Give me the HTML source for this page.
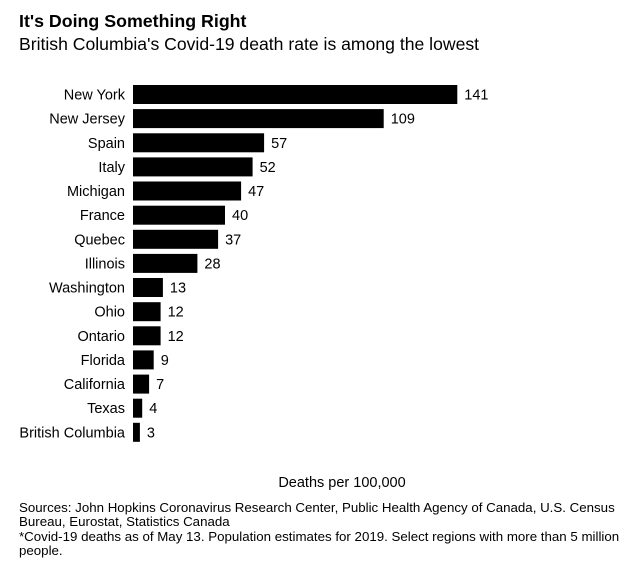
<!DOCTYPE html>
<html><head><style>
html,body{margin:0;padding:0;background:#fff;}
svg{display:block;font-family:"Liberation Sans",sans-serif;}
</style></head><body>
<svg width="630" height="581" viewBox="0 0 630 581">
<text x="19" y="27" font-size="17.8" font-weight="bold" fill="#000">It's Doing Something Right</text>
<text x="19" y="50" font-size="17.6" fill="#000">British Columbia's Covid-19 death rate is among the lowest</text>
<g fill="#000">
<rect x="133" y="85" width="324.3" height="19"/>
<rect x="133" y="109.1" width="250.7" height="19"/>
<rect x="133" y="133.3" width="131.1" height="19"/>
<rect x="133" y="157.4" width="119.6" height="19"/>
<rect x="133" y="181.5" width="108.1" height="19"/>
<rect x="133" y="205.7" width="92" height="19"/>
<rect x="133" y="229.8" width="85.1" height="19"/>
<rect x="133" y="253.9" width="64.4" height="19"/>
<rect x="133" y="278" width="29.9" height="19"/>
<rect x="133" y="302.2" width="27.6" height="19"/>
<rect x="133" y="326.3" width="27.6" height="19"/>
<rect x="133" y="350.4" width="20.7" height="19"/>
<rect x="133" y="374.6" width="16.1" height="19"/>
<rect x="133" y="398.7" width="9.2" height="19"/>
<rect x="133" y="422.8" width="6.9" height="19"/>
</g>
<g font-size="14.5" fill="#000" text-anchor="end">
<text x="125" y="99.5">New York</text>
<text x="125" y="123.6">New Jersey</text>
<text x="125" y="147.8">Spain</text>
<text x="125" y="171.9">Italy</text>
<text x="125" y="196">Michigan</text>
<text x="125" y="220.2">France</text>
<text x="125" y="244.3">Quebec</text>
<text x="125" y="268.4">Illinois</text>
<text x="125" y="292.5">Washington</text>
<text x="125" y="316.7">Ohio</text>
<text x="125" y="340.8">Ontario</text>
<text x="125" y="364.9">Florida</text>
<text x="125" y="389.1">California</text>
<text x="125" y="413.2">Texas</text>
<text x="125" y="437.3">British Columbia</text>
</g>
<g font-size="14.5" fill="#000">
<text x="464.3" y="99.5">141</text>
<text x="390.7" y="123.6">109</text>
<text x="271.1" y="147.8">57</text>
<text x="259.6" y="171.9">52</text>
<text x="248.1" y="196">47</text>
<text x="232" y="220.2">40</text>
<text x="225.1" y="244.3">37</text>
<text x="204.4" y="268.4">28</text>
<text x="169.9" y="292.5">13</text>
<text x="167.6" y="316.7">12</text>
<text x="167.6" y="340.8">12</text>
<text x="160.7" y="364.9">9</text>
<text x="156.1" y="389.1">7</text>
<text x="149.2" y="413.2">4</text>
<text x="146.9" y="437.3">3</text>
</g>
<text x="342" y="487" font-size="14.5" text-anchor="middle">Deaths per 100,000</text>
<g font-size="13.3" fill="#000">
<text x="19" y="512">Sources: John Hopkins Coronavirus Research Center, Public Health Agency of Canada, U.S. Census</text>
<text x="19" y="526">Bureau, Eurostat, Statistics Canada</text>
<text x="19" y="541">*Covid-19 deaths as of May 13. Population estimates for 2019. Select regions with more than 5 million</text>
<text x="19" y="555">people.</text>
</g>
</svg>
</body></html>
